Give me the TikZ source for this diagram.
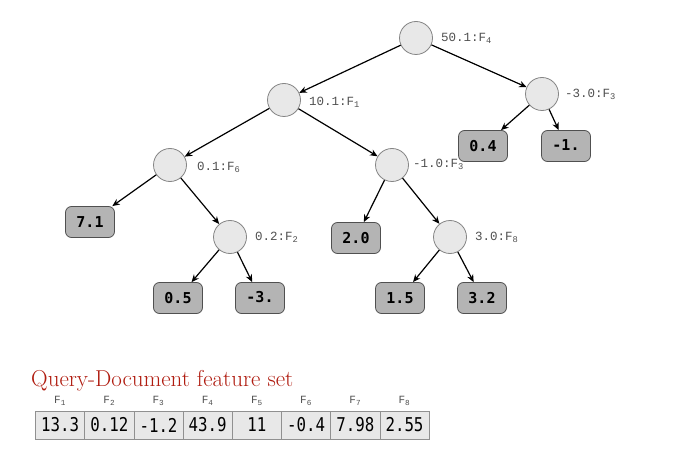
\documentclass[tikz,border=0pt]{standalone}
\usepackage{fontspec}
\usetikzlibrary{arrows.meta}
\newfontfamily\lblfont{Liberation Mono}
\newfontfamily\leaffont{DejaVu Sans Mono}
\newfontfamily\tblfont[FakeStretch=0.83]{DejaVu Sans Mono}
\definecolor{splitfill}{HTML}{E8E8E8}
\definecolor{splitdraw}{HTML}{858585}
\definecolor{leaffill}{HTML}{B4B4B4}
\definecolor{leafdraw}{HTML}{505050}
\definecolor{lbltext}{HTML}{505050}
\definecolor{titlered}{HTML}{B01C10}
\definecolor{celldraw}{HTML}{909090}
\begin{document}
\begin{tikzpicture}[x=1pt,y=-1pt,
  split/.style={circle,draw=splitdraw,fill=splitfill,minimum size=33pt,inner sep=0pt,line width=0.8pt},
  leaf/.style={rectangle,rounded corners=6pt,draw=leafdraw,fill=leaffill,minimum width=49pt,minimum height=31pt,inner sep=0pt,line width=0.8pt,font=\leaffont\bfseries\fontsize{15}{15}\selectfont},
  lbl/.style={anchor=west,inner sep=0pt,text=lbltext,font=\lblfont\fontsize{12.5}{12.5}\selectfont},
  edge/.style={-{Stealth[length=7.5pt,width=6.5pt]},line width=1.2pt,black},
  cell/.style={rectangle,draw=celldraw,fill=splitfill,minimum width=49.2pt,minimum height=28pt,inner sep=0pt,line width=0.8pt,font=\tblfont\fontsize{19}{19}\selectfont},
  hdr/.style={inner sep=0pt,text=lbltext,font=\lblfont\fontsize{11}{11}\selectfont}]
\fill[white] (0,0) rectangle (684,462);
\useasboundingbox (0,0) rectangle (684,462);
% split nodes
\node[split] (root) at (416,38) {};
\node[split] (f1) at (284,100) {};
\node[split] (f3r) at (542,94) {};
\node[split] (f6) at (170,165) {};
\node[split] (f3m) at (392,165) {};
\node[split] (f2) at (230,237) {};
\node[split] (f8) at (450,237) {};
% labels
\node[lbl] (lroot) at (441,38) {50.1:F\textsubscript{4}};
\node[lbl] (lf1) at (309,102) {10.1:F\textsubscript{1}};
\node[lbl] (lf3r) at (565,94) {-3.0:F\textsubscript{3}};
\node[lbl] (lf6) at (197,167) {0.1:F\textsubscript{6}};
\node[lbl] (lf3m) at (413,164) {-1.0:F\textsubscript{3}};
\node[lbl] (lf2) at (255,237) {0.2:F\textsubscript{2}};
\node[lbl] (lf8) at (475,237) {3.0:F\textsubscript{8}};
% leaves
\node[leaf] (l04) at (483,146) {0.4};
\node[leaf] (lm1) at (566,146) {\raisebox{2pt}{-1.}};
\node[leaf] (l71) at (90,222) {7.1};
\node[leaf] (l20) at (356,238) {2.0};
\node[leaf] (l05) at (178,298) {0.5};
\node[leaf] (lm3) at (260,298) {\raisebox{2pt}{-3.}};
\node[leaf] (l15) at (400,298) {1.5};
\node[leaf] (l32) at (482,298) {3.2};
% edges
\draw[edge] (root) -- (f1);
\draw[edge] (root) -- (f3r);
\draw[edge] (f3r) -- (l04);
\draw[edge] (f3r) -- (lm1);
\draw[edge] (f1) -- (f6);
\draw[edge] (f1) -- (f3m);
\draw[edge] (f6) -- (l71);
\draw[edge] (f6) -- (f2);
\draw[edge] (f2) -- (l05);
\draw[edge] (f2) -- (lm3);
\draw[edge] (f3m) -- (l20);
\draw[edge] (f3m) -- (f8);
\draw[edge] (f8) -- (l15);
\draw[edge] (f8) -- (l32);
% title
\node[anchor=base west,inner sep=0pt,text=titlered,font=\fontsize{23}{23}\selectfont] (title) at (31,386) {Query-Document feature set};
% table
\foreach \i/\v in {1/13.3,2/0.12,3/-1.2,4/43.9,5/11,6/-0.4,7/7.98,8/2.55}{
  \node[cell] (c\i) at ({35.5+49.2*(\i-0.5)},425) {\v};
  \node[hdr] (h\i) at ({35.5+49.2*(\i-0.5)},401) {F\textsubscript{\i}};
}
\end{tikzpicture}
\end{document}
